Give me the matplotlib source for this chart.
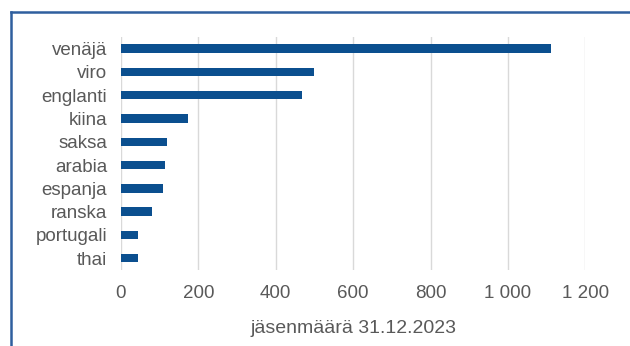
import matplotlib
matplotlib.use('Agg')
import matplotlib.pyplot as plt
from matplotlib.lines import Line2D
from matplotlib.ticker import FuncFormatter

plt.rcParams['font.family'] = ['Liberation Sans', 'DejaVu Sans']

# data
languages = ['venäjä', 'viro', 'englanti', 'kiina', 'saksa',
             'arabia', 'espanja', 'ranska', 'portugali', 'thai']
members = [1112, 499, 467, 173, 118, 113, 108, 80, 45, 43]
x_ticks = [0, 200, 400, 600, 800, 1000, 1200]
x_label = 'jäsenmäärä 31.12.2023'

bar_color = '#0b4f8f'
text_color = '#595959'

fig = plt.figure(figsize=(6.3, 3.46), dpi=100)
ax = fig.add_axes([0.192, 0.22, 0.737, 0.673])

y_pos = list(range(len(languages)))
ax.barh(y_pos, members, height=0.36, color=bar_color, zorder=3)
ax.set_yticks(y_pos)
ax.set_yticklabels(languages)
ax.set_ylim(len(languages) - 0.5, -0.5)

ax.set_xlim(0, 1200)
ax.set_xticks(x_ticks)
ax.xaxis.set_major_formatter(FuncFormatter(lambda v, p: f'{int(v):,}'.replace(',', ' ')))
ax.grid(axis='x', color='#d9d9d9', linewidth=1, zorder=0)
ax.set_axisbelow(True)

for s in ax.spines.values():
    s.set_visible(False)
ax.tick_params(axis='both', length=0, colors=text_color)
ax.tick_params(axis='y', labelsize=13.5, pad=10)
ax.tick_params(axis='x', labelsize=13.5, pad=11)
ax.set_xlabel(x_label, fontsize=14, color=text_color, labelpad=13)

# blue frame around the chart (top and left edges visible)
W, H = 630, 346
fx = 11 / W
fy = 1 - 12 / H
fig.add_artist(Line2D([fx, 1], [fy, fy], transform=fig.transFigure,
                      color='#2f5f9e', linewidth=1.8))
fig.add_artist(Line2D([fx, fx], [0, fy], transform=fig.transFigure,
                      color='#2f5f9e', linewidth=1.8))

fig.savefig('out.png', dpi=100)
